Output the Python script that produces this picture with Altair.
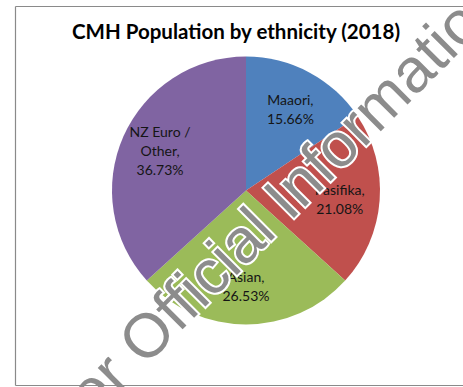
import altair as alt
import pandas as pd

# ---- data ----
categories = ["Maaori", "Pasifika", "Asian", "NZ Euro / Other"]
label_names = [["Maaori,"], ["Pasifika,"], ["Asian,"], ["NZ Euro /", "Other,"]]
values = [15.66, 21.08, 26.53, 36.73]
colors = ["#4F81BD", "#C0504D", "#9BBB59", "#8064A2"]
title_text = "CMH Population by ethnicity (2018)"
watermark_text = "Released under Official Information Act"

lines = [n + [f"{v:.2f}%"] for n, v in zip(label_names, values)]
df = pd.DataFrame({
    "cat": categories,
    "value": values,
    "order": list(range(len(categories))),
    "label2": [l if len(l) == 2 else "" for l in lines],
    "label3": [l if len(l) == 3 else "" for l in lines],
})

W, H = 434, 381
PAD_L, PAD_T = 29, 0
LH = 19

base = alt.Chart(df).encode(
    theta=alt.Theta("value:Q", stack=True),
    order=alt.Order("order:Q"),
)

pie = base.mark_arc(radius=134).encode(
    color=alt.Color("cat:N", scale=alt.Scale(domain=categories, range=colors), legend=None)
)

text_style = dict(radius=94, font="Lato", fontSize=14, lineHeight=LH,
                  color="#151515", align="center", baseline="middle")
labels2 = base.mark_text(dy=-LH / 2 + 3, **text_style).encode(text="label2")
labels3 = base.mark_text(dy=-LH, **text_style).encode(text="label3")

one = alt.Data(values=[{"t": title_text, "w": watermark_text}])

title = alt.Chart(one).mark_text(
    font="Lato", fontSize=20.5, fontWeight="bold", color="#000000",
    align="center", baseline="middle"
).encode(x=alt.value(236 - PAD_L), y=alt.value(33 - PAD_T), text="t:N")

border_col = "#8a8a8a"
top_rule = alt.Chart(one).mark_rule(color=border_col, strokeWidth=1.2).encode(
    x=alt.value(15.5 - PAD_L), x2=alt.value(W + 10), y=alt.value(6.5 - PAD_T))
left_rule = alt.Chart(one).mark_rule(color=border_col, strokeWidth=1.2).encode(
    x=alt.value(15.5 - PAD_L), y=alt.value(6.5 - PAD_T), y2=alt.value(385.5 - PAD_T))
bottom_rule = alt.Chart(one).mark_rule(color=border_col, strokeWidth=1.2).encode(
    x=alt.value(15.5 - PAD_L), x2=alt.value(W + 10), y=alt.value(385.5 - PAD_T))

wm_x, wm_y = -177 - PAD_L, 689 - PAD_T
wm_halo = alt.Chart(one).mark_text(
    font="Liberation Sans", fontSize=62, angle=315, align="left", baseline="alphabetic",
    color="#ffffff", stroke="#ffffff", strokeWidth=4
).encode(x=alt.value(wm_x), y=alt.value(wm_y), text="w:N")
wm = alt.Chart(one).mark_text(
    font="Liberation Sans", fontSize=62, angle=315, align="left", baseline="alphabetic",
    color="#8c8c8c"
).encode(x=alt.value(wm_x), y=alt.value(wm_y), text="w:N")

chart = alt.layer(
    pie, labels2, labels3, wm_halo, wm, title, top_rule, left_rule, bottom_rule
).properties(
    width=W, height=H,
    autosize=alt.AutoSizeParams(type="none"),
    padding={"left": PAD_L, "top": PAD_T, "right": 0, "bottom": 387 - H - PAD_T},
    background="white",
).configure_view(stroke=None)

chart.save("out.html", embed_options={"renderer": "svg", "actions": False})
